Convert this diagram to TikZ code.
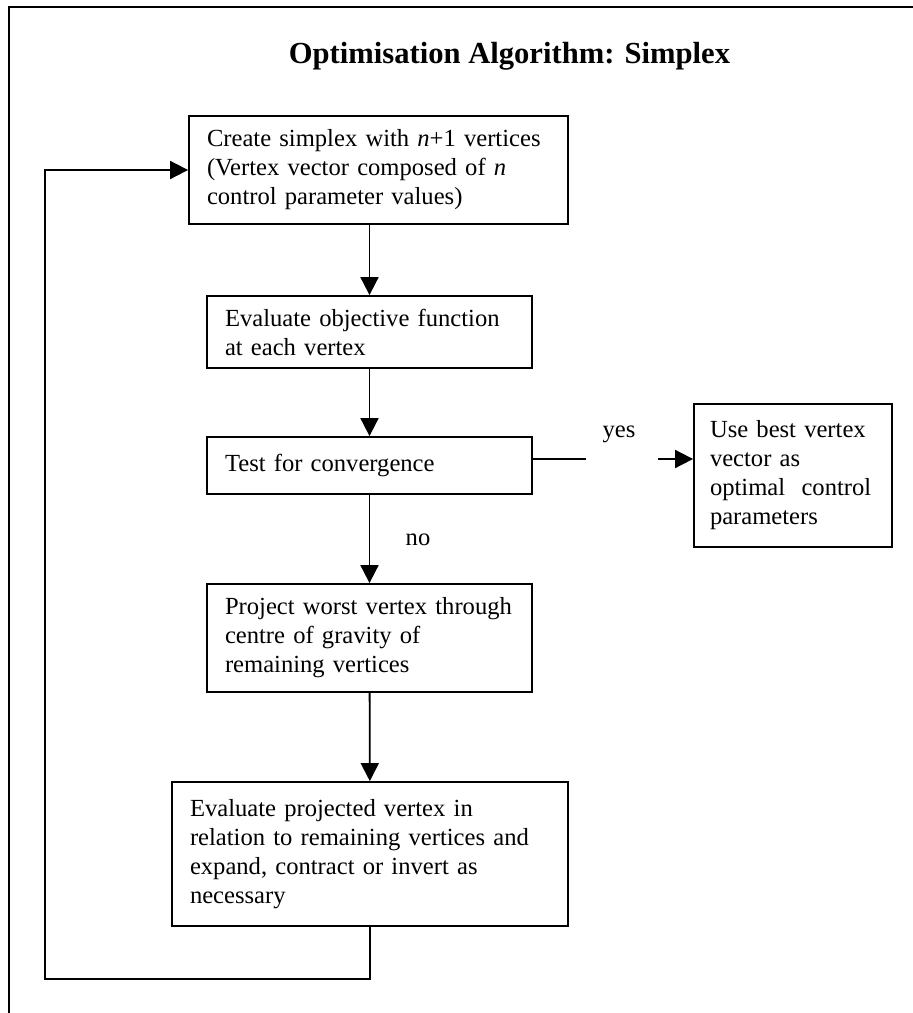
\documentclass[tikz,border=0pt]{standalone}
\usepackage{fontspec}
\setmainfont{Liberation Serif}
\usetikzlibrary{arrows.meta}
\begin{document}
\begin{tikzpicture}[x=0.5pt,y=-0.5pt,
  bodyfont/.style={font=\fontsize{12.3}{14.5}\selectfont},
  stepbox/.style={draw, line width=0.9pt, rectangle, align=left,
    inner xsep=9pt, inner ysep=0pt, bodyfont},
  flow/.style={line width=0.9pt, -{Triangle[length=9pt,width=9pt]}},
  plain/.style={line width=0.9pt},
  lbl/.style={bodyfont, anchor=base, inner sep=0pt}]
\useasboundingbox (0,0) rectangle (913,1013);

% page frame (top and left edges)
\draw[line width=1.2pt] (9,1013) -- (9,7) -- (913,7);

% title
\node[font=\fontsize{15.3}{18}\selectfont\bfseries, anchor=base, inner sep=0pt]
  (title) at (509.5,63) {Optimisation Algorithm: Simplex};

% process steps
\node[stepbox, text width=171.5pt, minimum height=54pt] (create) at (378.5,170)
  {Create simplex with \textit{n}+1 vertices\\(Vertex vector composed of \textit{n}\\control parameter values)};
\node[stepbox, text width=144.5pt, minimum height=36pt] (evalobj) at (369.5,332)
  {Evaluate objective function\\at each vertex};
\node[stepbox, text width=144.5pt, minimum height=28.5pt] (test) at (369.5,465.5)
  {Test for convergence};
\node[stepbox, inner xsep=8pt, text width=83pt, minimum height=71.5pt] (best) at (793,475.5)
  {Use best vertex\\vector as\\optimal\ \ control\\parameters};
\node[stepbox, text width=144.5pt, minimum height=54pt] (project) at (369.5,638)
  {Project worst vertex through\\centre of gravity of\\remaining vertices};
\node[stepbox, text width=180pt, minimum height=72pt] (evalproj) at (370,854)
  {Evaluate projected vertex in\\relation to remaining vertices and\\expand, contract or invert as\\necessary};

% branch labels
\node[lbl] (yes) at (619,437) {yes};
\node[lbl] (no) at (418,545) {no};

% connectors
\draw[flow] (create.south -| evalobj.north) -- (evalobj.north);
\draw[flow] (evalobj) -- (test);
\draw[flow] (test) -- (project);
\draw[flow] (project) -- (evalproj);

\coordinate (yesend) at (586,459);
\coordinate (yesstart) at (658,459);
\draw[plain] (test.east |- yesend) -- (yesend);
\draw[flow] (yesstart) -- (best.west |- yesstart);

\coordinate (loopcorner) at (45,979);
\draw[flow] (evalproj.south) |- (loopcorner) |- (create.west);
\end{tikzpicture}
\end{document}
